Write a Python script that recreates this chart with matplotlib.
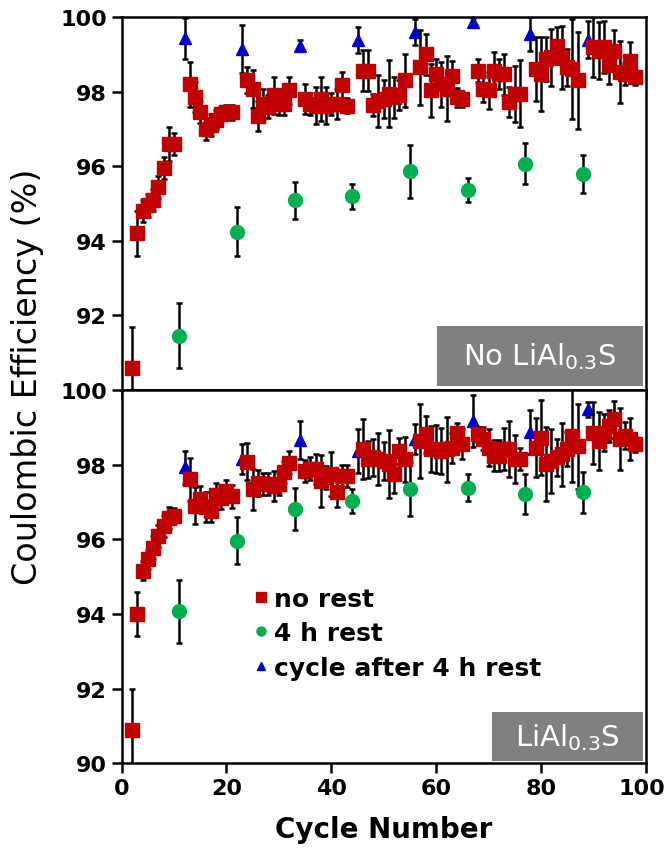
import matplotlib
matplotlib.use('Agg')
import matplotlib.pyplot as plt
import matplotlib.transforms as mtransforms
from matplotlib.patches import Rectangle

# cycle numbers
rest_cycles = [11, 22, 33, 44, 55, 66, 77, 88]
after_cycles = [12, 23, 34, 45, 56, 67, 78, 89]
norest_cycles = [c for c in range(2, 99) if c not in rest_cycles and c not in after_cycles]

# top panel: No LiAl0.3S
top_norest = [90.6, 94.2, 94.8, 94.95, 95.1, 95.45, 95.95, 96.6, 96.6,
              98.2, 97.85, 97.45, 97.0, 97.1, 97.25, 97.4, 97.45, 97.45,
              98.3, 98.07, 97.35, 97.67, 97.6, 97.9, 97.67, 97.67, 98.03,
              97.8, 97.67, 97.62, 97.8, 97.62, 97.67, 97.67, 98.18, 97.62,
              98.56, 98.56, 97.64, 97.75, 97.8, 97.94, 97.85, 97.9, 98.3,
              98.65, 99.0, 98.03, 98.47, 98.2, 98.07, 98.43, 97.85, 97.8,
              98.56, 98.07, 98.03, 98.56, 98.47, 98.47, 97.71, 97.94, 97.94,
              98.6, 98.47, 98.87, 98.92, 99.23, 98.92, 98.65, 98.6, 98.3,
              99.19, 99.1, 99.19, 98.7, 99.1, 98.52, 98.47, 98.83, 98.38]
top_norest_err = [1.1, 0.6, 0.3, 0.3, 0.3, 0.3, 0.3, 0.45, 0.3,
                  0.6, 0.4, 0.3, 0.3, 0.3, 0.25, 0.2, 0.2, 0.2,
                  0.35, 0.5, 0.4, 0.4, 0.3, 0.5, 0.3, 0.3, 0.35,
                  0.4, 0.3, 0.5, 0.6, 0.5, 0.3, 0.4, 0.35, 0.2,
                  0.55, 0.55, 0.3, 0.69, 0.5, 0.9, 0.55, 0.4, 0.7,
                  1.0, 0.55, 0.7, 0.4, 0.6, 0.87, 0.4, 0.25, 0.2,
                  0.3, 0.35, 0.5, 0.5, 0.4, 0.55, 0.4, 0.75, 0.9,
                  0.85, 1.0, 0.58, 0.76, 0.5, 0.85, 0.5, 1.34, 1.3,
                  0.8, 0.76, 0.7, 0.5, 0.56, 0.83, 0.3, 0.5, 0.2]
top_rest = [91.46, 94.25, 95.09, 95.19, 95.86, 95.36, 96.06, 95.79]
top_rest_err = [0.87, 0.65, 0.5, 0.33, 0.72, 0.32, 0.55, 0.52]
top_after = [99.43, 99.14, 99.23, 99.38, 99.59, 99.87, 99.54, 99.39]
top_after_err = [0.55, 0.65, 0.15, 0.35, 0.35, 0.1, 0.45, 0.5]

# bottom panel: LiAl0.3S
bot_norest = [90.9, 94.0, 95.16, 95.47, 95.78, 96.09, 96.36, 96.58, 96.63,
              97.61, 96.9, 97.08, 96.86, 96.76, 97.2, 97.12, 97.3, 97.15,
              98.08, 97.35, 97.52, 97.48, 97.48, 97.43, 97.48, 97.8, 98.06,
              97.84, 97.9, 97.88, 97.57, 97.66, 97.75, 97.27, 97.7, 97.7,
              98.42, 98.15, 98.2, 98.15, 98.1, 98.02, 97.75, 98.37, 98.15,
              98.64, 98.82, 98.42, 98.42, 98.37, 98.42, 98.46, 98.86, 98.55,
              98.82, 98.7, 98.46, 98.24, 98.24, 98.42, 98.42, 98.15, 98.15,
              98.46, 98.73, 98.02, 98.1, 98.2, 98.28, 98.42, 98.78, 98.5,
              98.86, 98.64, 98.86, 99.04, 99.22, 98.69, 98.78, 98.69, 98.55]
bot_norest_err = [1.1, 0.6, 0.25, 0.25, 0.3, 0.3, 0.3, 0.3, 0.2,
                  0.58, 0.5, 0.35, 0.4, 0.3, 0.3, 0.3, 0.3, 0.3,
                  0.5, 0.55, 0.35, 0.3, 0.3, 0.4, 0.3, 0.3, 0.3,
                  0.3, 0.3, 0.4, 0.7, 0.3, 0.6, 0.4, 0.3, 0.3,
                  0.8, 0.5, 0.5, 0.7, 0.5, 0.9, 0.5, 0.35, 0.6,
                  1.0, 0.5, 0.62, 0.65, 0.62, 0.87, 0.4, 0.27, 0.4,
                  0.2, 0.3, 0.5, 0.42, 0.42, 0.56, 0.74, 0.65, 0.3,
                  0.78, 1.0, 1.0, 0.85, 0.5, 0.85, 0.45, 1.25, 1.14,
                  0.83, 0.78, 0.5, 0.42, 0.5, 0.83, 0.36, 0.56, 0.2]
bot_rest = [94.07, 95.96, 96.81, 97.03, 97.35, 97.39, 97.21, 97.26]
bot_rest_err = [0.85, 0.63, 0.57, 0.32, 0.72, 0.36, 0.54, 0.54]
bot_after = [97.93, 98.15, 98.66, 98.37, 98.7, 99.18, 98.88, 99.49]
bot_after_err = [0.45, 0.4, 0.5, 0.6, 0.4, 0.7, 0.6, 0.2]

labels = ['no rest', '4 h rest', 'cycle after 4 h rest']
yticks_top = [92, 94, 96, 98, 100]
yticks_bot = [90, 92, 94, 96, 98, 100]
xticks = [0, 20, 40, 60, 80, 100]

red, green, blue = '#C00000', '#00B050', '#0000CC'

fig = plt.figure(figsize=(6.65, 8.54), dpi=100)
ax1 = fig.add_axes([0.183, 0.542, 0.788, 0.437])
ax2 = fig.add_axes([0.183, 0.105, 0.788, 0.437])

eb = dict(ecolor='black', elinewidth=1.8, capsize=2.5, capthick=1.8, linestyle='none')


def draw(ax, norest, norest_err, rest, rest_err, after, after_err, yticks):
    h1 = ax.errorbar(norest_cycles, norest, yerr=norest_err, fmt='s', color=red,
                     markersize=10, label=labels[0], zorder=3, **eb)
    h2 = ax.errorbar(rest_cycles, rest, yerr=rest_err, fmt='o', color=green,
                     markersize=10, label=labels[1], zorder=3, **eb)
    h3 = ax.errorbar(after_cycles, after, yerr=after_err, fmt='^', color=blue,
                     markersize=9, label=labels[2], zorder=2, **eb)
    h3[0].set_clip_on(False)
    ax.set_xlim(0, 100)
    ax.set_ylim(90, 100)
    ax.set_yticks(yticks)
    ax.set_xticks(xticks)
    ax.tick_params(direction='out', length=7, width=1.8, labelsize=16)
    for lab in ax.get_yticklabels() + ax.get_xticklabels():
        lab.set_fontweight('bold')
    for s in ax.spines.values():
        s.set_linewidth(1.8)
    return h1, h2, h3


draw(ax1, top_norest, top_norest_err, top_rest, top_rest_err, top_after, top_after_err, yticks_top)
ax1.tick_params(axis='x', labelbottom=False)
handles = draw(ax2, bot_norest, bot_norest_err, bot_rest, bot_rest_err, bot_after, bot_after_err, yticks_bot)

# nudge the last x label so it stays inside the figure
last = ax2.get_xticklabels()[-1]
last.set_transform(last.get_transform() + mtransforms.ScaledTranslation(-4 / 100, 0, fig.dpi_scale_trans))

# sample labels in grey boxes
ax1.add_patch(Rectangle((0.601, 0.011), 0.393, 0.161, transform=ax1.transAxes,
                        facecolor='#808080', edgecolor='none', zorder=5))
ax1.text(0.797, 0.092, 'No LiAl$_{0.3}$S', transform=ax1.transAxes, color='white',
         fontsize=21, ha='center', va='center', zorder=6)
ax2.add_patch(Rectangle((0.706, 0.005), 0.288, 0.132, transform=ax2.transAxes,
                        facecolor='#808080', edgecolor='none', zorder=5))
ax2.text(0.85, 0.071, 'LiAl$_{0.3}$S', transform=ax2.transAxes, color='white',
         fontsize=21, ha='center', va='center', zorder=6)

leg = ax2.legend([h[0] for h in handles], labels, loc='upper left',
                 bbox_to_anchor=(0.235, 0.50), frameon=False, handlelength=0.5,
                 handletextpad=0.25, labelspacing=0.42, borderaxespad=0,
                 markerscale=0.65, prop={'weight': 'bold', 'size': 18})

fig.text(0.042, 0.559, 'Coulombic Efficiency (%)', rotation=90, ha='center', va='center',
         fontsize=24, family=['Liberation Sans Narrow', 'DejaVu Sans'])
fig.text(0.577, 0.028, 'Cycle Number', ha='center', va='center',
         fontsize=20, fontweight='bold')

fig.savefig('out.png', dpi=100)
